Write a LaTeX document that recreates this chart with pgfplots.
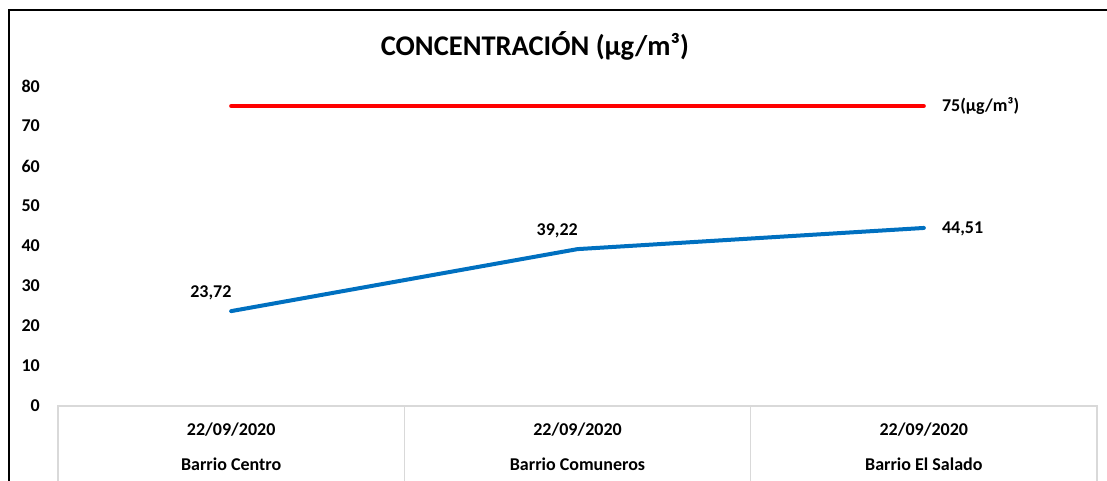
\documentclass[border=0pt]{standalone}
\usepackage{fontspec}
\setmainfont{Carlito}
\usepackage{pgfplots}
\pgfplotsset{compat=1.18}
\definecolor{lineblue}{HTML}{0070C0}
\definecolor{framegray}{HTML}{D9D9D9}
\begin{document}
\begin{tikzpicture}
\path[use as bounding box] (0pt,0pt) rectangle (1107pt,481pt);
\begin{axis}[
  at={(58pt,75pt)}, anchor=south west,
  scale only axis, width=1039pt, height=320pt,
  xmin=-0.5, xmax=2.5, ymin=0, ymax=80,
  ytick={0,10,...,80},
  xtick={0,1,2},
  xticklabels={{22/09/2020\\Barrio Centro},{22/09/2020\\Barrio Comuneros},{22/09/2020\\Barrio El Salado}},
  xticklabel style={align=center, font=\fontsize{18}{35}\selectfont\bfseries, anchor=north, inner sep=0pt, yshift=-17pt},
  yticklabel style={font=\fontsize{18}{20}\selectfont\bfseries, anchor=east, inner sep=0pt, xshift=-18pt},
  /pgf/number format/assume math mode=true,
  axis line style={draw=none},
  major tick length=0pt,
  clip=false,
  title={CONCENTRACIÓN (µg/m³)},
  title style={at={(0.459,1.107)}, anchor=center, font=\fontsize{28.5}{32}\selectfont\bfseries},
]
% category frame
\draw[framegray, line width=1.5pt] (axis cs:-0.5,-18.75) -- (axis cs:-0.5,0) -- (axis cs:2.5,0) -- (axis cs:2.5,-18.75);
\draw[framegray, line width=1.5pt] (axis cs:0.5,0) -- (axis cs:0.5,-18.75);
\draw[framegray, line width=1.5pt] (axis cs:1.5,0) -- (axis cs:1.5,-18.75);
% limit line
\addplot[draw=red, line width=4pt, line cap=round] coordinates {(0,75) (2,75)};
% concentration
\addplot[draw=lineblue, line width=4pt, line cap=round, line join=round] coordinates {(0,23.72) (1,39.22) (2,44.51)};
% labels
\addplot[draw=none, nodes near coords={\pgfmathprintnumber[use comma,fixed,fixed zerofill,precision=2]{\pgfplotspointmeta}},
  every node near coord/.append style={anchor=base east, inner sep=0pt, xshift=0.5pt, yshift=14pt, font=\fontsize{18}{20}\selectfont\bfseries}]
  coordinates {(0,23.72) (1,39.22)};
\addplot[draw=none, nodes near coords={\pgfmathprintnumber[use comma,fixed,fixed zerofill,precision=2]{\pgfplotspointmeta}},
  every node near coord/.append style={anchor=west, inner sep=0pt, xshift=18pt, yshift=-1pt, font=\fontsize{18}{20}\selectfont\bfseries}]
  coordinates {(2,44.51)};
\addplot[draw=none, nodes near coords={75(µg/m³)},
  every node near coord/.append style={anchor=west, inner sep=0pt, xshift=18pt, font=\fontsize{18}{20}\selectfont\bfseries}]
  coordinates {(2,75)};
\end{axis}
\draw[black, line width=2pt] (8.5pt,0pt) -- (8.5pt,470.5pt) -- (1107pt,470.5pt);
\end{tikzpicture}
\end{document}
